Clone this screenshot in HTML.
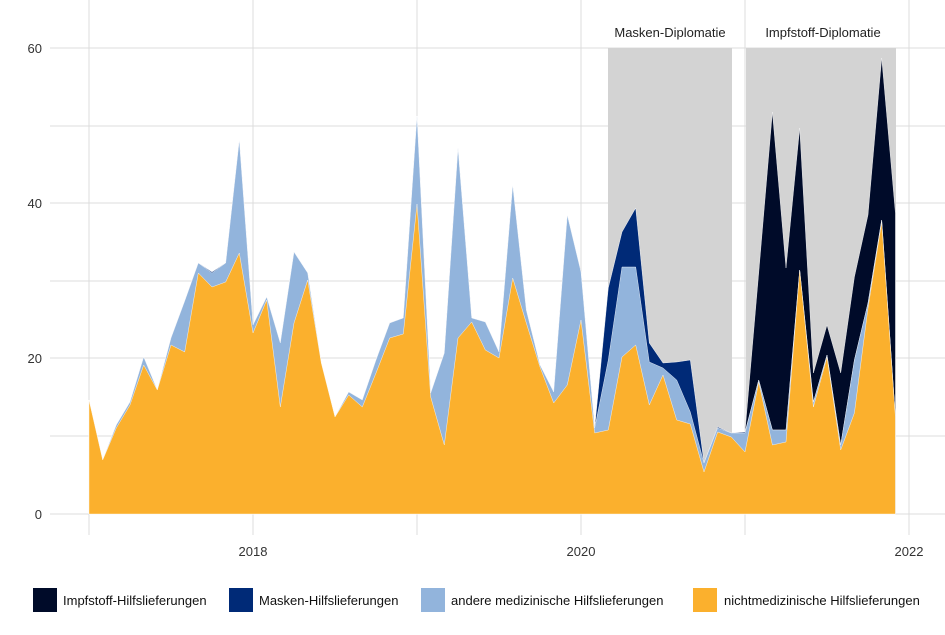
<!DOCTYPE html>
<html><head><meta charset="utf-8"><style>
body{margin:0;background:#fff;font-family:"Liberation Sans",sans-serif;}
svg text{font-family:"Liberation Sans",sans-serif;}
</style></head><body>
<svg id="s" width="945" height="630" viewBox="0 0 945 630" xmlns="http://www.w3.org/2000/svg">
<rect width="945" height="630" fill="#fff"/>
<g stroke="#dcdcdc" stroke-width="1">
<line x1="50" x2="945" y1="48" y2="48"/><line x1="50" x2="945" y1="126" y2="126"/>
<line x1="50" x2="945" y1="203" y2="203"/><line x1="50" x2="945" y1="281" y2="281"/>
<line x1="50" x2="945" y1="358" y2="358"/><line x1="50" x2="945" y1="436" y2="436"/>
<line x1="50" x2="945" y1="514" y2="514"/>
<line x1="89" x2="89" y1="0" y2="535"/><line x1="253" x2="253" y1="0" y2="535"/>
<line x1="417" x2="417" y1="0" y2="535"/><line x1="581" x2="581" y1="0" y2="535"/>
<line x1="745" x2="745" y1="0" y2="535"/><line x1="909" x2="909" y1="0" y2="535"/>
</g>
<rect x="608" y="48" width="124" height="466" fill="#d3d3d3"/>
<rect x="746" y="48" width="150" height="466" fill="#d3d3d3"/>
<text x="670" y="37" font-size="13" text-anchor="middle" fill="#222">Masken-Diplomatie</text>
<text x="823" y="37" font-size="13" text-anchor="middle" fill="#222">Impfstoff-Diplomatie</text>
<g id="areas"></g>
<g font-size="13" fill="#333" text-anchor="end">
<text x="42" y="53">60</text><text x="42" y="208">40</text><text x="42" y="363">20</text><text x="42" y="519">0</text>
</g>
<g font-size="13" fill="#333" text-anchor="middle">
<text x="253" y="556">2018</text><text x="581" y="556">2020</text><text x="909" y="556">2022</text>
</g>
<g font-size="13" fill="#111">
<rect x="33" y="588" width="24" height="24" fill="#000b29"/><text x="63" y="605">Impfstoff-Hilfslieferungen</text>
<rect x="229" y="588" width="24" height="24" fill="#002a77"/><text x="259" y="605">Masken-Hilfslieferungen</text>
<rect x="421" y="588" width="24" height="24" fill="#92b4dc"/><text x="451" y="605">andere medizinische Hilfslieferungen</text>
<rect x="693" y="588" width="24" height="24" fill="#fbb02d"/><text x="724" y="605">nichtmedizinische Hilfslieferungen</text>
</g>
</svg>
<script>
var O=[400,460,428,405,365,390,345,352,273,287,282,253,333,300,407,323,280,363,417,395,407,373,338,334,204,397,445,338,322,350,358,278,323,367,403,385,320,433,430,357,345,405,375,420,424,472,432,437,452,382,445,442,270,407,357,450,413,308,222,417];
var B=[400,460,425,402,357,390,338,301,263,273,263,140,325,297,343,252,273,363,417,392,400,360,323,318,116,393,353,148,318,322,352,185,310,365,392,215,272,428,360,267,267,362,368,380,412,463,428,433,433,380,430,430,270,402,355,445,360,303,220,417];
var N=B.slice();var nv={9:272,37:428,38:288,39:232,40:208,41:343,42:363,43:362,44:360,45:463,46:427,47:433,48:432};
for(var k in nv)N[k]=nv[k];
var D=N.slice();var dv={49:273,50:112,51:268,52:128,53:373,54:325,55:373,56:277,57:215,58:58,59:213};
for(var k in dv)D[k]=dv[k];
function poly(a,c){var p=[];for(var i=0;i<a.length;i++)p.push((89+i*13.667).toFixed(1)+","+a[i]);
p.push((89+59*13.667).toFixed(1)+",514");p.push("89,514");
return '<polygon points="'+p.join(" ")+'" fill="'+c+'" stroke="#fff" stroke-width="0.4"/>';}
document.getElementById("areas").innerHTML=poly(D,"#000b29")+poly(N,"#002a77")+poly(B,"#92b4dc")+poly(O,"#fbb02d");
</script>
</body></html>
